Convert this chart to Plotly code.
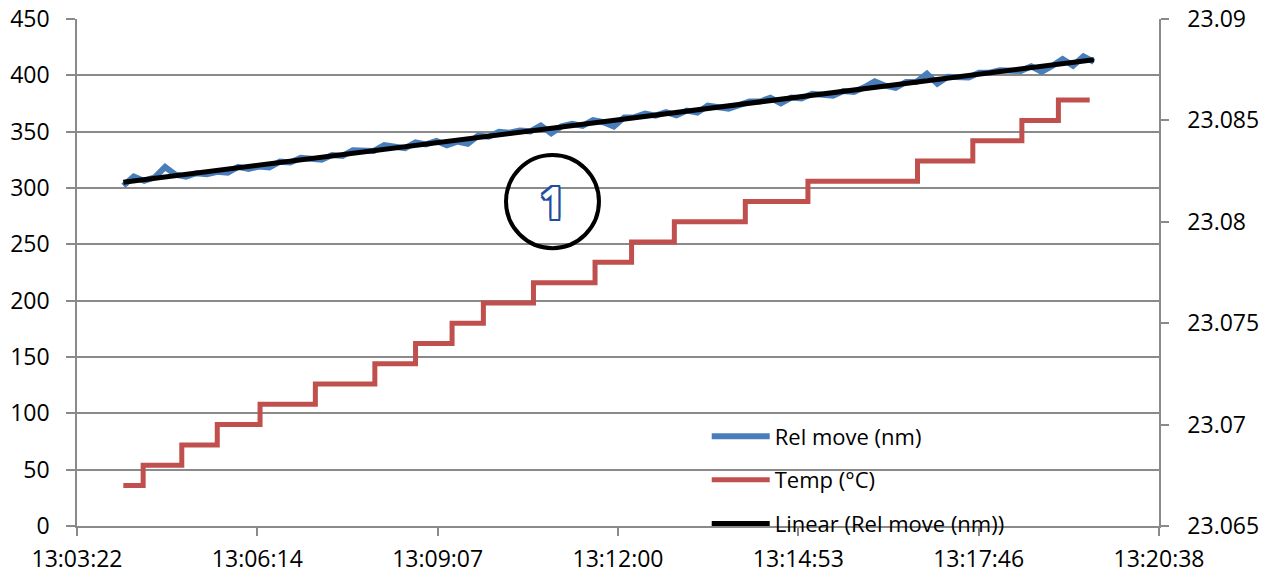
import numpy as np
import plotly.graph_objects as go

# ---------------- data ----------------
x_tick_labels = ["13:03:22", "13:06:14", "13:09:07", "13:12:00", "13:14:53", "13:17:46", "13:20:38"]
x_tick_seconds = [47001.6, 47174.4, 47347.2, 47520.0, 47692.8, 47865.6, 48038.4]

rel_move_start = "13:04:06"
rel_move_period_s = 10
rel_move_nm = [
    302.0, 310.2, 306.3, 309.5, 318.6, 311.8, 310.0, 313.1, 312.3, 314.4,
    313.6, 318.8, 316.9, 319.1, 318.3, 323.4, 322.6, 326.7, 325.9, 325.1,
    329.2, 328.4, 333.5, 333.7, 332.9, 338.0, 336.2, 335.3, 340.5, 338.7,
    341.8, 338.0, 341.2, 339.3, 346.5, 345.6, 349.8, 349.0, 351.1, 350.3,
    355.4, 348.6, 354.8, 356.9, 355.1, 360.2, 358.4, 354.6, 362.7, 362.9,
    366.1, 364.2, 367.4, 364.5, 368.7, 366.9, 373.0, 372.2, 370.3, 373.5,
    376.7, 376.8, 380.0, 375.1, 380.3, 379.5, 383.6, 382.8, 381.9, 386.1,
    385.3, 389.4, 394.6, 390.8, 388.9, 394.1, 394.2, 401.4, 392.6, 398.7,
    398.9, 398.0, 402.2, 402.4, 404.5, 403.7, 403.8, 408.0, 403.2, 408.3,
    414.5, 408.6, 416.8, 412.0,
]

temp_times = [
    "13:04:06", "13:04:25", "13:05:02", "13:05:36", "13:06:17", "13:07:10",
    "13:08:07", "13:08:46", "13:09:21", "13:09:51", "13:10:39", "13:11:38",
    "13:12:13", "13:12:54", "13:14:02", "13:15:02", "13:16:47", "13:17:40",
    "13:18:27", "13:19:02", "13:19:32",
]
temp_c = [
    23.067, 23.068, 23.069, 23.070, 23.071, 23.072,
    23.073, 23.074, 23.075, 23.076, 23.077, 23.078,
    23.079, 23.080, 23.081, 23.082, 23.083, 23.084,
    23.085, 23.086, 23.086,
]

y2_tick_vals = [23.065, 23.07, 23.075, 23.08, 23.085, 23.09]
y2_tick_text = ["23.065", "23.07", "23.075", "23.08", "23.085", "23.09"]


def to_sec(s):
    h, m, sec = (int(p) for p in s.split(":"))
    return h * 3600 + m * 60 + sec


t0 = to_sec(rel_move_start)
rel_t = [t0 + i * rel_move_period_s for i in range(len(rel_move_nm))]
temp_t = [to_sec(s) for s in temp_times]

# linear trendline (least squares fit of the Rel move series)
coef = np.polyfit(rel_t, rel_move_nm, 1)
fit_t = [rel_t[0], rel_t[-1]]
fit_v = list(np.polyval(coef, fit_t))

GRID = "#8a8a8a"
FONT = "Open Sans"
FS = 23

fig = go.Figure()
fig.add_trace(go.Scatter(x=rel_t, y=rel_move_nm, mode="lines", name="Rel move (nm)",
                         line=dict(color="#4a7ebb", width=6), legendgroup="a"))
fig.add_trace(go.Scatter(x=temp_t, y=temp_c, mode="lines", name="Temp (°C)", yaxis="y2",
                         line=dict(color="#c0504d", width=5, shape="hv"), legendgroup="b"))
fig.add_trace(go.Scatter(x=fit_t, y=fit_v, mode="lines", name="Linear (Rel move (nm))",
                         line=dict(color="#000000", width=5), legendgroup="c"))

fig.update_layout(
    width=1262, height=575,
    margin=dict(l=77, r=103, t=19, b=49),
    plot_bgcolor="white", paper_bgcolor="white",
    font=dict(family=FONT, size=FS, color="#000000"),
    showlegend=True,
    legend=dict(x=0.582, y=0.218, xanchor="left", yanchor="top",
                bgcolor="rgba(0,0,0,0)", tracegroupgap=12, itemwidth=58,
                font=dict(family=FONT, size=22, color="#000000")),
    xaxis=dict(range=[x_tick_seconds[0], x_tick_seconds[-1]], tickmode="array",
               tickvals=x_tick_seconds, ticktext=x_tick_labels, automargin=False,
               showgrid=False, zeroline=False, showline=True, linecolor=GRID, linewidth=1.5,
               ticks="outside", ticklen=8, tickcolor=GRID, tickwidth=1.5, ticklabelstandoff=4,
               tickfont=dict(size=23)),
    yaxis=dict(range=[0, 450], dtick=50, tick0=0, showgrid=True, gridcolor=GRID, gridwidth=1.5,
               zeroline=False, showline=True, linecolor=GRID, linewidth=1.5, automargin=False,
               ticks="outside", ticklen=9, tickcolor=GRID, tickwidth=1.5, ticklabelstandoff=12),
    yaxis2=dict(range=[23.065, 23.09], overlaying="y", side="right", tickmode="array",
                tickvals=y2_tick_vals, ticktext=y2_tick_text, showgrid=False, zeroline=False,
                showline=True, linecolor=GRID, linewidth=1.5, automargin=False,
                ticks="outside", ticklen=8, tickcolor=GRID, tickwidth=1.5, ticklabelstandoff=14),
)

# circled "1" marker
fig.add_shape(type="circle", xref="paper", yref="paper",
              x0=0.3965, x1=0.4824, y0=0.548, y1=0.7316,
              line=dict(color="#000000", width=4), fillcolor="rgba(0,0,0,0)")
fig.add_annotation(xref="paper", yref="paper", x=0.4394, y=0.640, text="<b>1</b>", showarrow=False,
                   font=dict(family=FONT, size=44, color="#ffffff",
                             shadow="2px 0 0 #1f4f9c, -2px 0 0 #1f4f9c, 0 2px 0 #1f4f9c, 0 -2px 0 #1f4f9c, 2px 2px 0 #1f4f9c, -2px -2px 0 #1f4f9c, 2px -2px 0 #1f4f9c, -2px 2px 0 #1f4f9c"))

fig.write_html("out.html")
